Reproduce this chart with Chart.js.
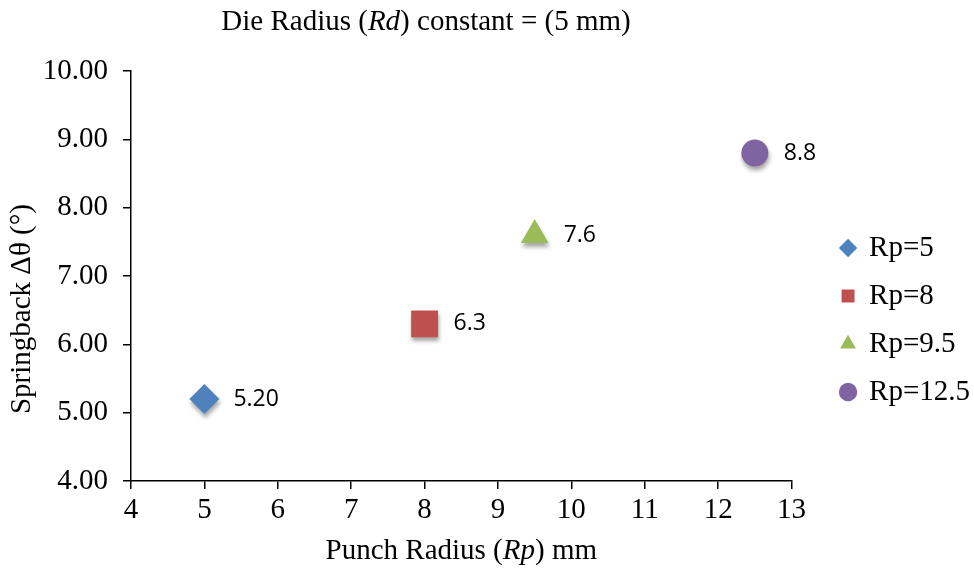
<!DOCTYPE html>
<html>
<head>
<meta charset="utf-8">
<script src="https://cdn.jsdelivr.net/npm/chart.js@4.4.0/dist/chart.umd.min.js"></script>
<style>
body { margin: 0; background: #fff; }
#wrap { width: 974px; height: 569px; }
</style>
</head>
<body>
<div id="wrap"><canvas id="chart" width="974" height="569"></canvas></div>
<script>
"use strict";

var seriesNames = ['Rp=5', 'Rp=8', 'Rp=9.5', 'Rp=12.5'];
var punchRadius = [5, 8, 9.5, 12.5];
var springback = [5.2, 6.3, 7.6, 8.8];
var pointLabels = ['5.20', '6.3', '7.6', '8.8'];
var markerStyles = ['rectRot', 'rect', 'triangle', 'circle'];
var markerSizes = [15, 19, 16, 13.5];
var colors = ['#4F81BD', '#C0504D', '#9BBB59', '#8064A2'];

var serif = '"Liberation Serif", "Times New Roman", serif';
var sans = '"Open Sans", "Liberation Sans", sans-serif';

var datasets = seriesNames.map(function (name, i) {
    return {
        label: name,
        data: [{ x: punchRadius[i], y: springback[i] }],
        xAxisID: 'x',
        yAxisID: 'y',
        pointStyle: markerStyles[i],
        pointRadius: markerSizes[i],
        pointHoverRadius: markerSizes[i],
        backgroundColor: colors[i],
        borderColor: colors[i],
        borderWidth: 0,
        showLine: false
    };
});

// draws a line of text made of plain / italic parts, centred on x
function drawMixed(ctx, parts, cx, cy, size) {
    var total = 0;
    parts.forEach(function (p) {
        ctx.font = (p[1] ? 'italic ' : '') + size + 'px ' + serif;
        total += ctx.measureText(p[0]).width;
    });
    var x = cx - total / 2;
    parts.forEach(function (p) {
        ctx.font = (p[1] ? 'italic ' : '') + size + 'px ' + serif;
        ctx.fillText(p[0], x, cy);
        x += ctx.measureText(p[0]).width;
    });
}

var shadowPlugin = {
    id: 'shadow',
    beforeDatasetsDraw: function (chart) {
        var ctx = chart.ctx;
        ctx.save();
        ctx.shadowColor = 'rgba(0,0,0,0.35)';
        ctx.shadowBlur = 4;
        ctx.shadowOffsetX = 1;
        ctx.shadowOffsetY = 4;
    },
    afterDatasetsDraw: function (chart) {
        var ctx = chart.ctx;
        ctx.restore();
        ctx.save();
        ctx.fillStyle = '#000';
        ctx.font = '23px ' + sans;
        ctx.textBaseline = 'middle';
        ctx.textAlign = 'left';
        chart.data.datasets.forEach(function (ds, i) {
            var el = chart.getDatasetMeta(i).data[0];
            ctx.fillText(pointLabels[i], el.x + 29, el.y);
        });
        ctx.restore();
    }
};

var textPlugin = {
    id: 'texts',
    afterDraw: function (chart) {
        var ctx = chart.ctx;
        var area = chart.chartArea;
        ctx.save();
        ctx.fillStyle = '#000';
        ctx.textBaseline = 'middle';
        ctx.textAlign = 'left';
        drawMixed(ctx, [['Die Radius (', false], ['Rd', true], [') constant = (5 mm)', false]], 426, 22, 29);
        drawMixed(ctx, [['Punch Radius (', false], ['Rp', true], [') mm', false]], (area.left + area.right) / 2, 551, 29);
        // y axis title, set a little below the axis middle like the original
        ctx.translate(22, 309);
        ctx.rotate(-Math.PI / 2);
        drawMixed(ctx, [['Springback \u0394\u03b8 (\u00b0)', false]], 0, 0, 29);
        ctx.restore();
    }
};

var ctx = document.getElementById('chart').getContext('2d');
var myChart = new Chart(ctx, {
    type: 'scatter',
    data: { datasets: datasets },
    plugins: [shadowPlugin, textPlugin],
    options: {
        responsive: false,
        animation: false,
        layout: {
            padding: { top: 71, left: 0, right: -6, bottom: 0 }
        },
        plugins: {
            tooltip: { enabled: false },
            title: { display: false },
            legend: {
                position: 'right',
                align: 'center',
                labels: {
                    usePointStyle: true,
                    boxWidth: 13,
                    boxHeight: 13,
                    padding: 19,
                    color: '#000',
                    font: { family: serif, size: 29 }
                }
            }
        },
        scales: {
            x: {
                type: 'linear',
                min: 4,
                max: 13,
                ticks: {
                    stepSize: 1,
                    color: '#000',
                    padding: 4,
                    font: { family: serif, size: 29 }
                },
                grid: {
                    display: true,
                    drawOnChartArea: false,
                    drawTicks: true,
                    tickLength: 8,
                    color: '#000',
                    lineWidth: 1.5
                },
                border: { color: '#000', width: 1.5 },
                afterFit: function (scale) { scale.height = 88; }
            },
            y: {
                type: 'linear',
                min: 4,
                max: 10,
                ticks: {
                    stepSize: 1,
                    color: '#000',
                    padding: 15,
                    font: { family: serif, size: 29 },
                    callback: function (v) { return v.toFixed(2); }
                },
                grid: {
                    display: true,
                    drawOnChartArea: false,
                    drawTicks: true,
                    tickLength: 8,
                    color: '#000',
                    lineWidth: 1.5
                },
                border: { color: '#000', width: 1.5 },
                afterFit: function (scale) { scale.width = 131; }
            },
            // empty spacer between plot and legend
            gap: {
                type: 'linear',
                position: 'right',
                display: true,
                ticks: { display: false },
                grid: { display: false, drawTicks: false },
                border: { display: false },
                afterFit: function (scale) { scale.width = 31; }
            }
        }
    }
});
</script>
</body>
</html>
